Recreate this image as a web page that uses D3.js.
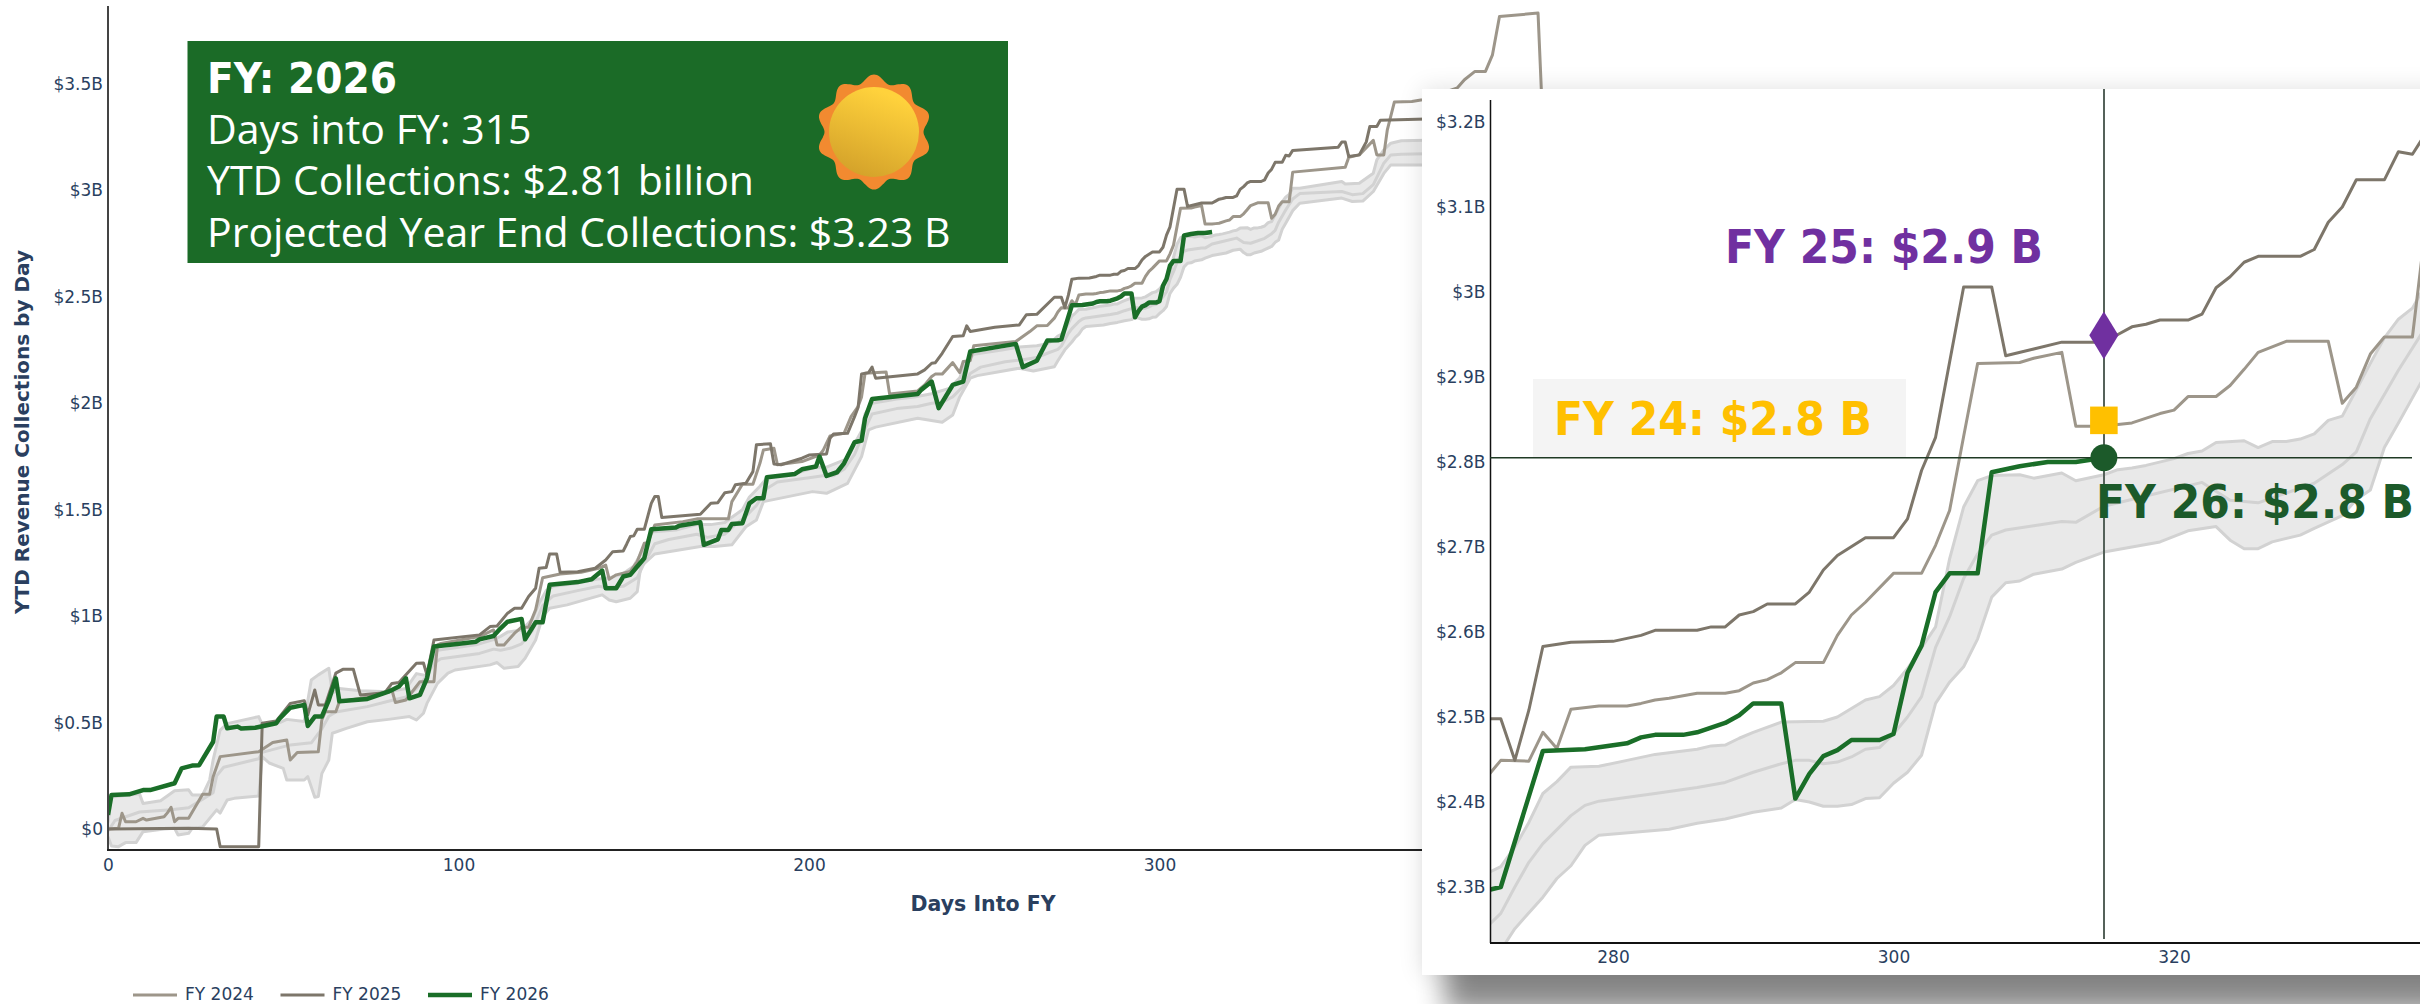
<!DOCTYPE html>
<html>
<head>
<meta charset="utf-8">
<script src="https://cdn.jsdelivr.net/npm/d3@7"></script>
<style>
    html, body { margin: 0; padding: 0; background: #fff; overflow: hidden; }
    text { font-family: "DejaVu Sans", sans-serif; }
</style>
</head>
<body>
<div id="chart"></div>
<script>
// [day into FY, YTD collections in $B]
const fy24 = [[0,0],[3,0.003],[4,0.074],[5,0.034],[8,0.034],[10,0.05],[11,0.042],[16,0.058],[17,0.077],[18,0.102],[19,0.034],[20,0.05],[23,0.05],[27,0.163],[29,0.163],[30,0.246],[32,0.34],[43,0.363],[47,0.406],[51,0.418],[52,0.324],[54,0.359],[60,0.363],[61,0.512],[62,0.551],[65,0.551],[66,0.598],[74,0.619],[81,0.653],[82,0.594],[85,0.606],[89,0.692],[93,0.692],[94,0.865],[95,0.872],[106,0.904],[110,0.935],[111,0.865],[113,0.865],[116,0.92],[118,0.948],[120,0.948],[122,1.03],[124,1.18],[129,1.198],[135,1.206],[140,1.225],[142,1.24],[143,1.173],[145,1.194],[149,1.21],[151,1.256],[153,1.342],[154,1.345],[156,1.428],[164,1.444],[168,1.457],[177,1.457],[178,1.538],[181,1.62],[184,1.62],[186,1.718],[187,1.781],[190,1.789],[191,1.711],[198,1.726],[203,1.757],[204,1.778],[206,1.847],[210,1.859],[212,1.937],[214,1.985],[215,2.03],[216,2.141],[222,2.147],[223,2.044],[231,2.058],[233,2.086],[235,2.126],[236,2.137],[238,2.137],[241,2.191],[243,2.144],[244,2.196],[246,2.2],[247,2.27],[259,2.29],[261,2.314],[263,2.337],[265,2.364],[268,2.365],[270,2.4],[271,2.429],[272,2.449],[274,2.448],[275,2.482],[276,2.463],[277,2.509],[279,2.513],[281,2.513],[282,2.516],[283,2.52],[284,2.522],[286,2.528],[288,2.528],[289,2.531],[290,2.54],[291,2.544],[292,2.552],[293,2.564],[295,2.564],[296,2.596],[297,2.62],[298,2.635],[300,2.669],[302,2.669],[303,2.702],[304,2.743],[305,2.83],[306,2.916],[309,2.917],[310,2.922],[312,2.929],[313,2.842],[315,2.842],[316,2.844],[317,2.846],[319,2.857],[320,2.861],[321,2.877],[323,2.877],[324,2.89],[325,2.909],[326,2.929],[328,2.942],[331,2.942],[332,2.869],[333,2.888],[334,2.927],[335,2.947],[337,2.947],[338,3.086],[353,3.109],[354,3.156],[357,3.167],[361,3.235],[362,3.167],[364,3.167],[365,3.285],[367,3.415],[372,3.418],[375,3.426],[385,3.482],[387,3.52],[390,3.559],[393,3.559],[395,3.637],[397,3.817],[408,3.833],[409,3.45]];

const fy25 = [[0,0],[23,0.003],[31,0],[32,-0.083],[43,-0.083],[44,0.497],[48,0.508],[49,0.528],[52,0.59],[56,0.603],[57,0.536],[59,0.653],[60,0.583],[62,0.583],[65,0.732],[67,0.75],[70,0.75],[72,0.63],[79,0.64],[81,0.684],[83,0.688],[88,0.779],[90,0.78],[91,0.724],[93,0.888],[106,0.912],[109,0.951],[111,0.954],[114,1.014],[116,1.037],[118,1.037],[120,1.092],[122,1.131],[123,1.225],[125,1.228],[126,1.292],[128,1.292],[129,1.206],[134,1.209],[139,1.225],[142,1.264],[144,1.303],[147,1.306],[148,1.339],[149,1.374],[150,1.377],[151,1.408],[153,1.408],[155,1.53],[156,1.562],[157,1.562],[158,1.463],[169,1.479],[172,1.53],[174,1.533],[176,1.58],[178,1.585],[179,1.617],[182,1.624],[184,1.679],[185,1.805],[189,1.81],[190,1.715],[192,1.711],[198,1.742],[200,1.757],[205,1.762],[206,1.836],[207,1.856],[211,1.859],[213,1.937],[214,1.98],[215,2.138],[217,2.144],[218,2.17],[219,2.118],[231,2.138],[233,2.157],[235,2.188],[236,2.19],[238,2.235],[241,2.314],[244,2.317],[245,2.364],[246,2.337],[253,2.357],[260,2.368],[262,2.416],[265,2.418],[270,2.498],[272,2.498],[273,2.449],[274,2.508],[275,2.583],[277,2.588],[280,2.589],[282,2.596],[283,2.602],[286,2.602],[287,2.606],[288,2.606],[289,2.62],[290,2.624],[291,2.633],[293,2.633],[294,2.647],[295,2.673],[296,2.69],[298,2.711],[300,2.711],[301,2.733],[302,2.79],[303,2.829],[305,3.006],[307,3.006],[308,2.925],[310,2.933],[312,2.941],[314,2.941],[315,2.941],[316,2.95],[317,2.959],[318,2.962],[319,2.967],[321,2.967],[322,2.974],[323,3.005],[324,3.018],[325,3.035],[326,3.042],[329,3.042],[330,3.05],[331,3.082],[332,3.1],[333,3.132],[335,3.132],[336,3.165],[337,3.162],[338,3.188],[351,3.203],[352,3.227],[353,3.227],[354,3.159],[357,3.167],[359,3.228],[360,3.3],[362,3.3],[363,3.33],[376,3.335]];

const fy26 = [[0,0.066],[1,0.16],[6,0.163],[10,0.183],[12,0.183],[19,0.215],[21,0.285],[24,0.298],[26,0.3],[30,0.41],[31,0.528],[33,0.528],[34,0.473],[37,0.481],[38,0.472],[42,0.476],[48,0.497],[49,0.52],[52,0.57],[56,0.583],[57,0.484],[59,0.528],[61,0.528],[63,0.606],[65,0.708],[66,0.6],[74,0.611],[80,0.645],[83,0.669],[85,0.708],[86,0.614],[89,0.63],[91,0.708],[93,0.857],[99,0.868],[105,0.88],[106,0.891],[110,0.907],[112,0.943],[114,0.974],[118,0.987],[119,0.891],[122,0.971],[124,0.971],[126,1.147],[134,1.16],[138,1.173],[141,1.214],[142,1.131],[145,1.131],[147,1.186],[149,1.194],[151,1.233],[153,1.272],[155,1.408],[162,1.416],[163,1.425],[169,1.441],[170,1.335],[174,1.361],[175,1.405],[177,1.405],[178,1.433],[181,1.436],[183,1.53],[185,1.554],[187,1.554],[188,1.653],[196,1.668],[198,1.69],[202,1.703],[203,1.75],[205,1.659],[208,1.676],[210,1.718],[213,1.817],[215,1.825],[216,1.93],[218,2.02],[231,2.044],[232,2.063],[235,2.102],[237,1.977],[241,2.086],[244,2.102],[246,2.243],[259,2.279],[261,2.17],[265,2.2],[268,2.295],[271,2.296],[272,2.3],[275,2.46],[278,2.462],[281,2.469],[282,2.476],[283,2.479],[285,2.479],[286,2.482],[288,2.493],[289,2.502],[290,2.516],[292,2.516],[293,2.404],[294,2.433],[295,2.454],[296,2.461],[297,2.473],[299,2.473],[300,2.48],[301,2.552],[302,2.584],[303,2.647],[304,2.669],[306,2.669],[307,2.788],[309,2.795],[311,2.8],[313,2.8],[315,2.805]];

const bandHigh = [[0,0.03],[1,0.15],[9,0.165],[10,0.12],[15,0.133],[19,0.18],[23,0.184],[24,0.16],[27,0.16],[29,0.23],[30,0.325],[32,0.465],[34,0.495],[43,0.528],[44,0.49],[49,0.5],[51,0.515],[56,0.505],[58,0.7],[60,0.724],[63,0.755],[64,0.6375],[66,0.66],[72,0.65],[80,0.645],[85,0.66],[88,0.73],[91,0.72],[94,0.84],[105,0.865],[110,0.89],[112,0.905],[114,0.925],[118,0.935],[121,0.985],[123,1.06],[125,1.12],[127,1.14],[134,1.155],[140,1.175],[143,1.18],[147,1.2],[150,1.235],[153,1.32],[155,1.395],[162,1.405],[168,1.43],[172,1.43],[176,1.44],[178,1.465],[181,1.5],[183,1.56],[186,1.61],[188,1.65],[196,1.67],[202,1.7],[205,1.7],[208,1.72],[211,1.74],[213,1.81],[215,1.87],[216,1.95],[218,2.0],[225,2.02],[230,2.03],[235,2.045],[240,2.07],[243,2.12],[245,2.2],[247,2.23],[255,2.25],[260,2.265],[265,2.27],[268,2.28],[270,2.3],[271,2.316],[272,2.324],[273,2.347],[274,2.376],[275,2.41],[276,2.424],[277,2.441],[279,2.442],[281,2.449],[283,2.456],[286,2.462],[287,2.466],[288,2.467],[289,2.475],[290,2.482],[292,2.494],[295,2.495],[296,2.5],[298,2.52],[299,2.524],[300,2.537],[301,2.557],[303,2.606],[304,2.686],[305,2.747],[306,2.778],[307,2.784],[309,2.785],[310,2.781],[312,2.787],[313,2.778],[315,2.785],[316,2.791],[317,2.793],[318,2.796],[320,2.804],[321,2.81],[322,2.813],[323,2.823],[325,2.825],[326,2.817],[327,2.824],[328,2.824],[329,2.827],[330,2.833],[331,2.849],[332,2.854],[333,2.885],[334,2.916],[335,2.946],[336,2.968],[337,2.981],[338,3.01],[340,3.01],[352,3.042],[353,3.03],[357,3.034],[361,3.081],[362,3.144],[364,3.19],[366,3.222],[369,3.233],[376,3.236]];

const bandMid = [[0,-0.01],[2,0.04],[9,0.08],[18,0.09],[23,0.1],[27,0.14],[30,0.17],[31,0.25],[33,0.29],[43,0.33],[44,0.36],[52,0.395],[58,0.405],[61,0.47],[63,0.53],[65,0.55],[74,0.575],[80,0.6],[85,0.62],[88,0.66],[91,0.72],[93,0.78],[95,0.8],[106,0.825],[110,0.845],[112,0.84],[115,0.85],[118,0.87],[121,0.93],[124,1.05],[127,1.095],[134,1.12],[140,1.14],[142,1.135],[147,1.14],[151,1.18],[153,1.25],[156,1.34],[160,1.36],[168,1.385],[171,1.37],[176,1.385],[179,1.43],[182,1.47],[185,1.52],[188,1.6],[191,1.63],[200,1.65],[204,1.66],[207,1.66],[210,1.69],[213,1.76],[216,1.88],[218,1.95],[225,1.975],[231,1.985],[235,2.0],[238,2.005],[241,2.03],[244,2.08],[246,2.14],[249,2.17],[256,2.195],[261,2.205],[265,2.215],[268,2.235],[271,2.253],[272,2.269],[273,2.3],[274,2.329],[275,2.351],[277,2.384],[278,2.396],[279,2.401],[283,2.41],[286,2.417],[288,2.423],[290,2.435],[292,2.445],[293,2.449],[294,2.449],[295,2.445],[296,2.447],[297,2.453],[298,2.462],[299,2.464],[300,2.48],[301,2.5],[302,2.524],[303,2.582],[304,2.618],[305,2.663],[306,2.692],[307,2.714],[308,2.72],[310,2.725],[312,2.73],[313,2.729],[315,2.748],[318,2.76],[322,2.776],[324,2.755],[326,2.752],[330,2.775],[332,2.797],[333,2.812],[334,2.851],[336,2.908],[338,2.96],[340,2.985],[352,2.995],[355,2.98],[358,2.985],[361,3.027],[364,3.128],[366,3.167],[369,3.17],[376,3.172]];

const bandLow = [[0,-0.036],[1,-0.08],[3,-0.083],[5,-0.064],[8,-0.064],[10,-0.0125],[16,0],[19,0.003],[20,-0.028],[23,-0.02],[24,0.003],[27,0.01],[31,0.09],[32,0.075],[34,0.136],[36,0.144],[43,0.155],[44,0.34],[46,0.31],[50,0.285],[51,0.23],[56,0.23],[57,0.246],[59,0.149],[60,0.152],[61,0.26],[63,0.324],[64,0.45],[68,0.473],[74,0.504],[80,0.515],[86,0.528],[88,0.512],[90,0.544],[91,0.59],[94,0.684],[97,0.732],[99,0.747],[109,0.771],[111,0.782],[113,0.755],[117,0.763],[119,0.802],[122,0.888],[124,0.998],[126,1.037],[131,1.053],[141,1.1],[143,1.076],[145,1.068],[149,1.084],[151,1.115],[152,1.233],[156,1.292],[169,1.327],[173,1.327],[178,1.335],[182,1.42],[185,1.452],[187,1.538],[201,1.585],[205,1.577],[211,1.624],[215,1.75],[217,1.875],[219,1.888],[231,1.93],[238,1.911],[241,1.945],[243,2.03],[246,2.118],[248,2.13],[260,2.165],[264,2.152],[270,2.172],[271,2.2],[273,2.251],[275,2.288],[276,2.31],[277,2.325],[278,2.349],[279,2.361],[284,2.368],[286,2.375],[288,2.38],[290,2.388],[292,2.393],[293,2.403],[294,2.4],[295,2.395],[296,2.395],[297,2.397],[298,2.404],[299,2.405],[300,2.422],[301,2.435],[302,2.455],[303,2.516],[304,2.541],[305,2.559],[306,2.592],[307,2.641],[308,2.658],[309,2.66],[310,2.668],[312,2.674],[313,2.682],[315,2.694],[317,2.7],[319,2.706],[321,2.719],[323,2.724],[324,2.708],[325,2.698],[326,2.698],[327,2.706],[329,2.714],[330,2.722],[332,2.737],[333,2.756],[334,2.767],[335,2.817],[336,2.846],[338,2.905],[340,2.94],[352,2.964],[355,2.948],[358,2.95],[361,2.995],[364,3.08],[366,3.12],[376,3.12]];

const markerDay = 315;
const markerFy25 = 2.949;
const markerFy24 = 2.849;
const markerFy26 = 2.805;

const mainDayTicks = [0, 100, 200, 300];
const mainValueTicks = [0, 0.5, 1, 1.5, 2, 2.5, 3, 3.5];
const zoomDayTicks = [280, 300, 320];
const zoomValueTicks = [2.3, 2.4, 2.5, 2.6, 2.7, 2.8, 2.9, 3, 3.1, 3.2];
const legendNames = ["FY 2024", "FY 2025", "FY 2026"];
const infoLines = ["FY: 2026", "Days into FY: 315", "YTD Collections: $2.81 billion", "Projected Year End Collections: $3.23 B"];

const inkColor = "#2a3f5f";
const fy24Color = "#9d968a";
const fy25Color = "#7d766a";
const fy26Color = "#1a6e28";
const bandEdge = "#d2d2d2";
const bandFill = "#e9e9e9";
const tickFormat = d => d === 0 ? "$0" : `$${d}B`;

const svg = d3.select("#chart").append("svg")
    .attr("width", 2420)
    .attr("height", 1004)
    .style("display", "block");

const defs = svg.append("defs");

// draws band and the three years on one panel
function drawSeries(g, x, y) {
    const line = d3.line().x(d => x(d[0])).y(d => y(d[1]));

    g.append("path")
        .attr("d", line([...bandHigh, ...bandLow.slice().reverse()]) + "Z")
        .attr("fill", bandFill);

    [bandHigh, bandMid, bandLow].forEach(s => {
        g.append("path")
            .attr("d", line(s))
            .attr("fill", "none")
            .attr("stroke", bandEdge)
            .attr("stroke-width", 3)
            .attr("stroke-linejoin", "round");
    });

    [[fy24, fy24Color, 3], [fy25, fy25Color, 3], [fy26, fy26Color, 4.5]].forEach(s => {
        g.append("path")
            .attr("d", line(s[0]))
            .attr("fill", "none")
            .attr("stroke", s[1])
            .attr("stroke-width", s[2])
            .attr("stroke-linejoin", "round");
    });
}

function styleAxis(g, lineColor, lineWidth) {
    g.selectAll(".tick line").remove();
    g.select(".domain").attr("stroke", lineColor).attr("stroke-width", lineWidth);
    g.selectAll("text")
        .attr("fill", inkColor)
        .style("font-family", '"DejaVu Sans", sans-serif')
        .style("font-size", "17px");
}

/* main chart */
const x = d3.scaleLinear().domain([0, 300]).range([108, 1159.5]);
const y = d3.scaleLinear().domain([0, 3.5]).range([829, 84]);

defs.append("clipPath").attr("id", "mainClip").append("rect")
    .attr("x", 108).attr("y", 6).attr("width", 1750).attr("height", 844);

drawSeries(svg.append("g").attr("clip-path", "url(#mainClip)"), x, y);

const mainLeft = svg.append("g")
    .attr("transform", "translate(108,0)")
    .call(d3.axisLeft(y).tickValues(mainValueTicks).tickFormat(tickFormat).tickSize(0).tickPadding(5));
mainLeft.select(".domain").attr("d", "M0,6V850");
styleAxis(mainLeft, "#444", 2);

const mainBottom = svg.append("g")
    .attr("transform", "translate(0,850)")
    .call(d3.axisBottom(x).tickValues(mainDayTicks).tickSize(0).tickPadding(9));
mainBottom.select(".domain").attr("d", "M107,0H1858");
styleAxis(mainBottom, "#222", 2);

svg.append("text")
    .attr("transform", "translate(29,432) rotate(-90)")
    .attr("text-anchor", "middle")
    .attr("fill", inkColor)
    .style("font-size", "20px")
    .style("font-weight", "bold")
    .text("YTD Revenue Collections by Day");

svg.append("text")
    .attr("x", 983).attr("y", 911)
    .attr("text-anchor", "middle")
    .attr("fill", inkColor)
    .style("font-size", "20.5px")
    .style("font-weight", "bold")
    .text("Days Into FY");

/* legend */
const legend = svg.selectAll(".legend").data(legendNames).enter().append("g")
    .attr("class", "legend")
    .attr("transform", (d, i) => `translate(${133 + i * 147.5},995)`);
legend.append("line")
    .attr("x2", 44)
    .attr("stroke", (d, i) => [fy24Color, fy25Color, fy26Color][i])
    .attr("stroke-width", (d, i) => i === 2 ? 4.5 : 3);
legend.append("text")
    .attr("x", 52).attr("y", 5)
    .attr("fill", inkColor)
    .style("font-size", "17px")
    .text(d => d);

/* info box */
svg.append("rect")
    .attr("x", 187.5).attr("y", 41)
    .attr("width", 820.5).attr("height", 222)
    .attr("fill", "#1b6b27");

const infoBox = svg.selectAll(".info").data(infoLines).enter().append("text")
    .attr("class", "info")
    .attr("x", 207)
    .attr("y", (d, i) => 93 + i * 51.2)
    .attr("fill", "#fff")
    .style("font-family", (d, i) => i === 0 ? '"DejaVu Sans", sans-serif' : '"Open Sans", sans-serif')
    .style("font-size", (d, i) => i === 0 ? "42px" : "41px")
    .style("font-weight", (d, i) => i === 0 ? "bold" : "normal")
    .text(d => d);
// the bold title runs narrower than DejaVu, squeeze it to the same width
infoBox.filter((d, i) => i === 0)
    .attr("textLength", 190)
    .attr("lengthAdjust", "spacingAndGlyphs");

// sun icon, scalloped edge with a yellow disc on it
const sunGrad = defs.append("linearGradient").attr("id", "sunGrad")
    .attr("x1", "0.7").attr("y1", "0.1").attr("x2", "0.35").attr("y2", "1");
sunGrad.append("stop").attr("offset", "0").attr("stop-color", "#ffd23c");
sunGrad.append("stop").attr("offset", "1").attr("stop-color", "#d4a22a");

const scallop = d3.lineRadial()
    .angle(d => d)
    .radius(d => 53.5 + 4 * Math.cos(10 * d))
    .curve(d3.curveCardinalClosed);
const sun = svg.append("g").attr("transform", "translate(874,132)");
sun.append("path")
    .attr("d", scallop(d3.range(120).map(i => i * Math.PI / 60)))
    .attr("fill", "#f28a30");
sun.append("circle").attr("r", 45).attr("fill", "url(#sunGrad)");

/* zoomed panel with its shadow */
const softShadow = defs.append("filter").attr("id", "softShadow")
    .attr("x", "-10%").attr("y", "-10%").attr("width", "120%").attr("height", "120%");
softShadow.append("feGaussianBlur").attr("stdDeviation", 12);
const hardShadow = defs.append("filter").attr("id", "hardShadow")
    .attr("x", "-10%").attr("y", "-10%").attr("width", "120%").attr("height", "120%");
hardShadow.append("feGaussianBlur").attr("stdDeviation", 14);

svg.append("rect")
    .attr("x", 1422).attr("y", 89).attr("width", 1100).attr("height", 886)
    .attr("fill", "#000").attr("opacity", 0.12)
    .attr("filter", "url(#softShadow)");
svg.append("rect")
    .attr("x", 1445).attr("y", 300).attr("width", 1100).attr("height", 712)
    .attr("fill", "#000").attr("opacity", 0.46)
    .attr("filter", "url(#hardShadow)");
svg.append("rect")
    .attr("x", 1422).attr("y", 89).attr("width", 1100).attr("height", 886)
    .attr("fill", "#fff");

const xZoom = d3.scaleLinear().domain([280, 320]).range([1613, 2174]);
const yZoom = d3.scaleLinear().domain([2.3, 3.2]).range([887, 122]);

defs.append("clipPath").attr("id", "zoomClip").append("rect")
    .attr("x", 1490).attr("y", 100).attr("width", 930).attr("height", 843);

drawSeries(svg.append("g").attr("clip-path", "url(#zoomClip)"), xZoom, yZoom);

const zoomLeft = svg.append("g")
    .attr("transform", "translate(1490.5,0)")
    .call(d3.axisLeft(yZoom).tickValues(zoomValueTicks).tickFormat(tickFormat).tickSize(0).tickPadding(5));
zoomLeft.select(".domain").attr("d", "M0,100V943");
styleAxis(zoomLeft, "#111", 1.5);

const zoomBottom = svg.append("g")
    .attr("transform", "translate(0,943)")
    .call(d3.axisBottom(xZoom).tickValues(zoomDayTicks).tickSize(0).tickPadding(8));
zoomBottom.select(".domain").attr("d", "M1490,0H2420");
styleAxis(zoomBottom, "#111", 2);

// crosshair at today's reading
svg.append("line")
    .attr("x1", xZoom(markerDay)).attr("x2", xZoom(markerDay))
    .attr("y1", 89).attr("y2", 939)
    .attr("stroke", "#55625a").attr("stroke-width", 2)
    .attr("shape-rendering", "crispEdges");
svg.append("line")
    .attr("x1", 1490).attr("x2", 2412)
    .attr("y1", yZoom(markerFy26)).attr("y2", yZoom(markerFy26))
    .attr("stroke", "#1f3a24").attr("stroke-width", 1.5);

const symbolAt = (type, size, value, color, sx, sy) => svg.append("path")
    .attr("d", d3.symbol().type(type).size(size)())
    .attr("transform", `translate(${xZoom(markerDay)},${yZoom(value)}) scale(${sx},${sy})`)
    .attr("fill", color);

symbolAt(d3.symbolSquare, 760, markerFy24, "#ffc000", 1, 1);
symbolAt(d3.symbolDiamond, 680, markerFy25, "#7030a0", 1.04, 0.98);
symbolAt(d3.symbolCircle, 572, markerFy26, "#1c5a2a", 1, 1);

// value call-outs
svg.append("rect")
    .attr("x", 1533).attr("y", 379)
    .attr("width", 373).attr("height", 78)
    .attr("fill", "#f4f4f4");

const callouts = [
    ["FY 25: $2.9 B", 1725, 263, "#7030a0"],
    ["FY 24: $2.8 B", 1554, 435, "#ffc000"],
    ["FY 26: $2.8 B", 2096, 518, "#1c5a2a"]
];
svg.selectAll(".callout").data(callouts).enter().append("text")
    .attr("class", "callout")
    .attr("x", d => d[1])
    .attr("y", d => d[2])
    .attr("fill", d => d[3])
    .attr("textLength", 318)
    .attr("lengthAdjust", "spacingAndGlyphs")
    .style("font-family", '"DejaVu Sans", sans-serif')
    .style("font-size", "46px")
    .style("font-weight", "bold")
    .text(d => d[0]);
</script>
</body>
</html>
